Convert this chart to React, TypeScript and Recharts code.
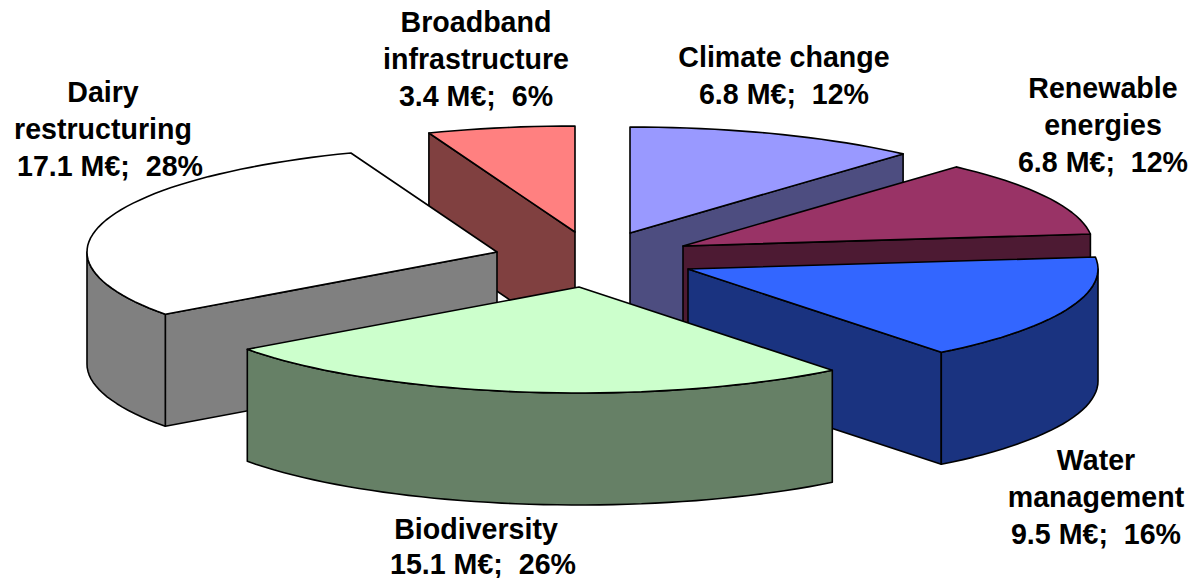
import React from "react";
import { PieChart, Pie } from "recharts";

// ---- data ----
const leftNames = ["Broadband", "Dairy", "Biodiversity"];
const rightNames = ["Climate", "Renewable", "Water"];
const headings: Record<string, string[]> = {
  Broadband: ["Broadband", "infrastructure"],
  Dairy: ["Dairy", "restructuring"],
  Biodiversity: ["Biodiversity"],
  Climate: ["Climate change"],
  Renewable: ["Renewable", "energies"],
  Water: ["Water", "management"],
};
const amounts: Record<string, number> = {
  Broadband: 3.4, Dairy: 17.1, Biodiversity: 15.1, Climate: 6.8, Renewable: 6.8, Water: 9.5,
};
const labelledPercents: Record<string, number> = {
  Broadband: 6, Dairy: 28, Biodiversity: 26, Climate: 12, Renewable: 12, Water: 16,
};
// slice sizes as measured on the drawn pie
const shares: Record<string, number> = {
  Broadband: 5.8, Dairy: 29.2, Biodiversity: 25.6, Climate: 11.6, Renewable: 11.6, Water: 16.2,
};

// ---- styling / layout ----
const topColors: Record<string, string> = {
  Broadband: "#FF8080", Dairy: "#FFFFFF", Biodiversity: "#CCFFCC",
  Climate: "#9999FF", Renewable: "#993366", Water: "#3366FF",
};
const wallColors: Record<string, string> = {
  Broadband: "#804040", Dairy: "#808080", Biodiversity: "#668066",
  Climate: "#4D4D80", Renewable: "#4D1A33", Water: "#1A3380",
};
const CX = 590;
const CY = 250;
const RADIUS = 410;
const TILT = 0.2585;
const DEPTH = 112;
const explode: Record<string, [number, number]> = {
  Broadband: [-15, -18], Dairy: [-93, 2], Biodiversity: [-11, 37],
  Climate: [40, -17], Renewable: [93, -4], Water: [98, 19],
};
const FONT_SIZE = 28.6;
const LINE_HEIGHT = 36.8;
const labelPlace: Record<string, [number, number]> = {
  Broadband: [476, 32], Dairy: [110, 102], Biodiversity: [483, 539],
  Climate: [784, 67], Renewable: [1103, 98], Water: [1096, 470],
};
const headingNudge: Record<string, number> = {
  Broadband: 0, Dairy: -7, Biodiversity: -7, Climate: 0, Renewable: 0, Water: 0,
};
const lineGap: Record<string, number> = { Biodiversity: 35 };

const toRows = (names: string[]) => names.map((name) => ({ name, share: shares[name] }));
const leftRows = toRows(leftNames);
const rightRows = toRows(rightNames);
const sum = (names: string[]) => names.reduce((t, n) => t + shares[n], 0);

const rad = (d: number) => (d * Math.PI) / 180;

function SliceShape(props: any) {
  const name: string = props.name ?? props.payload?.name;
  const r: number = props.outerRadius;
  const [ox, oy] = explode[name];
  const ax = props.cx + ox;
  const ay = props.cy + oy;
  const lo = Math.min(props.startAngle, props.endAngle);
  const hi = Math.max(props.startAngle, props.endAngle);
  const pt = (deg: number): [number, number] => [
    ax + r * Math.cos(rad(deg)),
    ay - r * TILT * Math.sin(rad(deg)),
  ];
  const arc = (from: number, to: number) => {
    const out: [number, number][] = [];
    const n = Math.max(2, Math.ceil((to - from) / 2));
    for (let i = 0; i <= n; i++) out.push(pt(from + ((to - from) * i) / n));
    return out;
  };
  const str = (pts: [number, number][]) =>
    "M" + pts.map((p) => `${p[0].toFixed(1)},${p[1].toFixed(1)}`).join("L") + "Z";
  const drop = (pts: [number, number][]) =>
    pts.map((p) => [p[0], p[1] + DEPTH] as [number, number]);

  const walls: [number, number][][] = [];
  const apex: [number, number] = [ax, ay];
  const radial = (deg: number) => {
    const p = pt(deg);
    walls.push([apex, p, [p[0], p[1] + DEPTH], [ax, ay + DEPTH]]);
  };
  if (Math.cos(rad(lo)) > 1e-6) radial(lo);
  if (Math.cos(rad(hi)) < -1e-6) radial(hi);
  for (const k of [-1, 0, 1]) {
    const a = Math.max(lo, 180 + 360 * k);
    const b = Math.min(hi, 360 + 360 * k);
    if (b > a) {
      const top = arc(a, b);
      walls.push([...top, ...drop(top).reverse()]);
    }
  }
  const common = { stroke: "#000", strokeWidth: 1.6, strokeLinejoin: "round" as const };
  return (
    <g>
      {walls.map((w, i) => (
        <path key={i} d={str(w)} fill={wallColors[name]} {...common} />
      ))}
      <path d={str([apex, ...arc(lo, hi)])} fill={topColors[name]} {...common} />
    </g>
  );
}

function SliceLabel(props: any) {
  const name: string = props.name ?? props.payload?.name;
  const [x, y] = labelPlace[name];
  const heads = headings[name];
  const lines = [...heads, `${amounts[name].toFixed(1)} M€;  ${labelledPercents[name]}%`];
  const gap = lineGap[name] ?? LINE_HEIGHT;
  return (
    <text
      textAnchor="middle"
      fontFamily="'Liberation Sans', Arial, sans-serif"
      fontWeight={700}
      fontSize={FONT_SIZE}
      fill="#000"
      style={{ whiteSpace: "pre" }}
    >
      {lines.map((l, i) => (
        <tspan key={i} x={x + (i < heads.length ? headingNudge[name] : 0)} y={y + i * gap}>
          {l}
        </tspan>
      ))}
    </text>
  );
}

export default function App() {
  return (
    <div style={{ position: "absolute", left: 0, top: 0, width: 1189, height: 578, background: "#fff" }}>
      <PieChart width={1189} height={578} margin={{ top: 0, right: 0, bottom: 0, left: 0 }}>
        <Pie
          data={rightRows}
          dataKey="share"
          nameKey="name"
          cx={CX}
          cy={CY}
          innerRadius={0}
          outerRadius={RADIUS}
          startAngle={90}
          endAngle={90 - sum(rightNames) * 3.6}
          shape={SliceShape}
          label={SliceLabel}
          labelLine={false}
          isAnimationActive={false}
        />
        <Pie
          data={leftRows}
          dataKey="share"
          nameKey="name"
          cx={CX}
          cy={CY}
          innerRadius={0}
          outerRadius={RADIUS}
          startAngle={90}
          endAngle={90 + sum(leftNames) * 3.6}
          shape={SliceShape}
          label={SliceLabel}
          labelLine={false}
          isAnimationActive={false}
        />
      </PieChart>
    </div>
  );
}
